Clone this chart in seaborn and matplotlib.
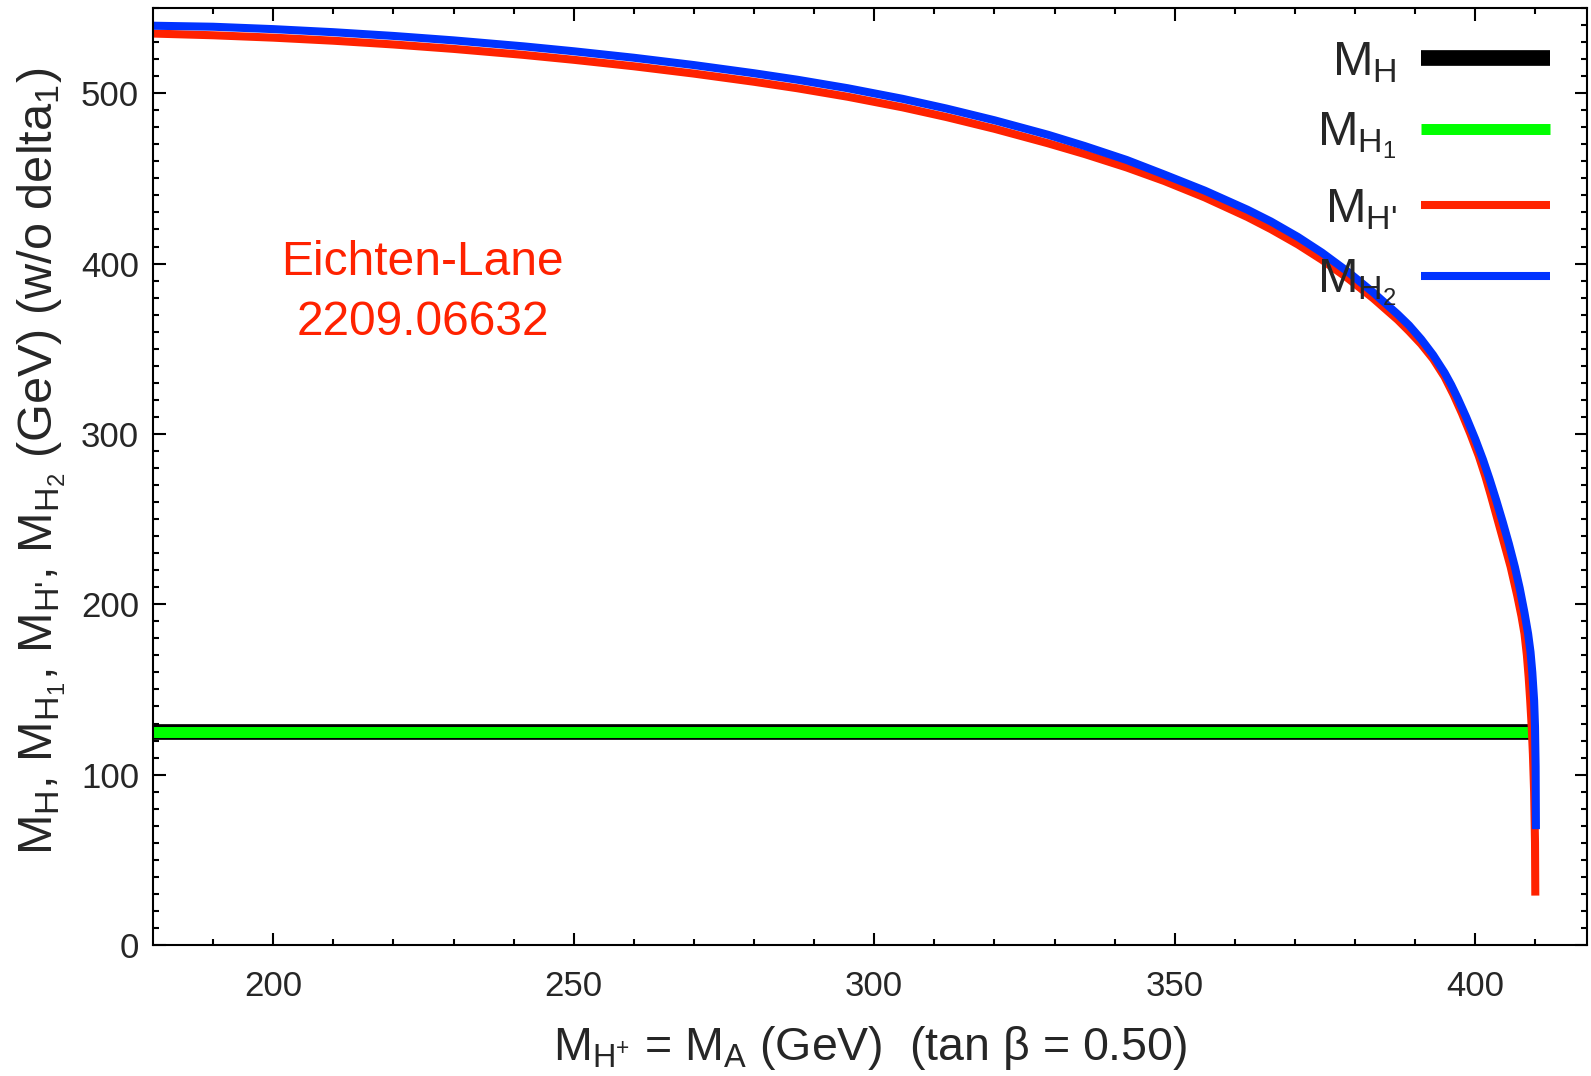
import matplotlib
matplotlib.use("Agg")
import matplotlib.pyplot as plt
import seaborn as sns
import numpy as np
import pandas as pd

# ---- data ----
mh_x = [180.0, 409.0]
mh_y = [125.0, 125.0]

mh1_x = [180.0, 409.0]
mh1_y = [125.0, 125.0]

mhp_x = [180.0, 190.0, 200.0, 210.0, 220.0, 230.0, 241.6, 250.0, 260.0, 270.0, 280.0,
         287.2, 295.6, 304.7, 312.0, 320.0, 328.9, 335.0, 342.0, 348.3, 355.0, 362.1,
         366.0, 370.5, 374.5, 378.8, 383.0, 387.1, 389.0, 391.0, 393.0, 394.9, 396.4,
         397.8, 399.2, 400.6, 401.7, 402.6, 403.7, 404.8, 405.9, 407.0, 407.7, 408.2,
         408.6, 408.9, 409.15, 409.4, 409.6, 409.8, 409.95, 410.0]
mhp_y = [535.0, 534.0, 532.6, 530.8, 528.6, 526.0, 522.5, 519.6, 515.8, 511.5, 506.7,
         502.9, 497.9, 491.7, 486.0, 479.1, 470.6, 464.3, 456.4, 448.4, 438.8, 427.3,
         420.2, 411.2, 402.2, 391.4, 379.7, 367.0, 360.3, 352.8, 344.0, 333.5, 323.0,
         312.0, 300.0, 287.0, 275.0, 264.0, 250.0, 236.0, 221.9, 205.0, 193.0, 182.7,
         170.0, 157.0, 143.5, 128.0, 112.0, 90.0, 60.0, 29.0]

mh2_x = [180.0, 190.0, 200.0, 210.0, 220.0, 230.0, 241.6, 250.0, 260.0, 270.0, 280.0,
         287.2, 295.6, 304.7, 312.0, 320.0, 328.9, 335.0, 342.0, 348.3, 355.0, 362.1,
         366.0, 370.5, 374.5, 378.8, 383.0, 387.1, 389.0, 391.0, 393.0, 394.9, 396.0,
         397.1, 398.5, 400.0, 401.3, 402.4, 403.5, 404.6, 405.6, 406.6, 407.4, 408.2,
         408.8, 409.2, 409.5, 409.8, 409.95, 410.05, 410.1]
mh2_y = [539.6, 539.0, 537.6, 535.8, 533.6, 531.0, 527.5, 524.6, 520.8, 516.5, 511.7,
         507.9, 502.9, 496.7, 491.0, 484.1, 475.6, 469.0, 460.8, 452.2, 442.8, 431.6,
         424.7, 415.6, 406.4, 395.2, 383.1, 370.2, 363.7, 355.6, 346.3, 335.9, 328.8,
         320.8, 309.8, 297.0, 284.8, 273.3, 261.0, 248.0, 235.5, 221.9, 209.5, 195.0,
         182.7, 172.0, 160.0, 143.5, 128.0, 105.0, 68.0]

xticks = [200, 250, 300, 350, 400]
yticks = [0, 100, 200, 300, 400, 500]

RED = "#ff2200"
BLUE = "#0033ff"
GREEN = "#00ff00"

sns.set_theme(style="ticks")
plt.rcParams["font.family"] = ["Liberation Sans", "DejaVu Sans"]
plt.rcParams["mathtext.fontset"] = "custom"
plt.rcParams["mathtext.rm"] = "Liberation Sans"
plt.rcParams["mathtext.it"] = "Liberation Sans"
plt.rcParams["mathtext.bf"] = "Liberation Sans:bold"
plt.rcParams["mathtext.default"] = "rm"

fig = plt.figure(figsize=(15.91, 10.76), dpi=100)
ax = fig.add_axes([153 / 1591, 1 - 945 / 1076, (1587 - 153) / 1591, (945 - 8) / 1076])

def draw(xs, ys, color, lw, label):
    df = pd.DataFrame({"x": xs, "y": ys})
    sns.lineplot(data=df, x="x", y="y", color=color, linewidth=lw, label=label,
                 estimator=None, sort=False, ax=ax, solid_capstyle="butt",
                 solid_joinstyle="round")

draw(mh_x, mh_y, "black", 11.3, r"$M_H$")
draw(mh1_x, mh1_y, GREEN, 7.9, r"$M_{H_1}$")
draw(mhp_x, mhp_y, RED, 5.8, r"$M_{H\text{'}}$")
draw(mh2_x, mh2_y, BLUE, 5.8, r"$M_{H_2}$")

ax.set_xlim(180, 418.6)
ax.set_ylim(0, 550)
ax.set_xticks(xticks)
ax.set_yticks(yticks)
ax.set_xticks(np.arange(190, 419, 10), minor=True)
ax.set_yticks(np.arange(10, 551, 10), minor=True)

ax.tick_params(which="both", direction="in", top=True, right=True, width=1.5, color="black")
ax.tick_params(which="major", length=9, labelsize=25)
ax.tick_params(which="minor", length=4.3)
ax.tick_params(axis="x", which="major", pad=18)
ax.tick_params(axis="y", which="major", pad=10)
for s in ax.spines.values():
    s.set_linewidth(1.5)
    s.set_color("black")

ax.set_xlabel(r"$M_{H^{+}}$ = $M_A$ (GeV)  (tan $\beta$ = 0.50)", fontsize=33.5, labelpad=15)
ax.set_ylabel(r"$M_H$, $M_{H_1}$, $M_{H\text{'}}$, $M_{H_2}$ (GeV) (w/o delta$_1$)",
              fontsize=35)
ax.yaxis.set_label_coords(-0.059, 0.516)

ax.text(0.188, 0.696, "Eichten-Lane\n2209.06632", transform=ax.transAxes, color=RED,
        fontsize=34.5, ha="center", va="center", linespacing=1.42)

leg = ax.legend(loc="upper right", bbox_to_anchor=(1550 / 1591, 1 - 40 / 1076),
                bbox_transform=fig.transFigure, frameon=False, markerfirst=False,
                fontsize=35, handlelength=2.65, handletextpad=0.5, labelspacing=0.53,
                borderpad=0, borderaxespad=0)

fig.savefig("out.png", dpi=100)
